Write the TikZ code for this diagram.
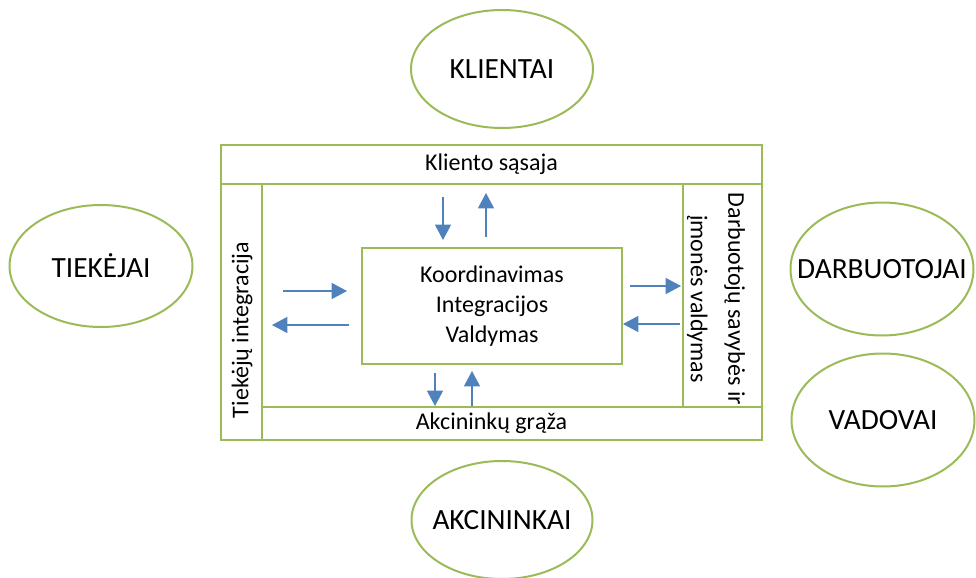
\documentclass[tikz,border=0pt]{standalone}
\usepackage{fontspec}
\setmainfont{Carlito}
\usetikzlibrary{arrows.meta,shapes.geometric}

\definecolor{frameGreen}{HTML}{9BBB59}
\definecolor{arrowBlue}{HTML}{4F81BD}

% label may run past the ellipse rim
\newcommand{\partytext}[1]{\makebox[0pt]{#1}}

\begin{document}
\begin{tikzpicture}[
  x=0.75pt, y=-0.75pt,
  every node/.style={font=\fontsize{18}{22.5}\selectfont, text=black},
  party/.style={ellipse, draw=frameGreen, line width=1.5pt, fill=white,
                inner sep=0pt, font=\fontsize{22}{26}\selectfont},
  band/.style={rectangle, draw=frameGreen, line width=1.5pt, fill=white, inner sep=0pt},
  flow/.style={-{Triangle[length=11.5pt,width=12pt]}, draw=arrowBlue, fill=arrowBlue, line width=1.1pt}
]
\clip (0,0) rectangle (976,578);

% stakeholders round the frame
\node[party, minimum width=182*0.75pt, minimum height=118*0.75pt] (klientai) at (502,69) {\partytext{KLIENTAI}};
\node[party, minimum width=183*0.75pt, minimum height=122*0.75pt] (tiekejai) at (101,266) {\partytext{TIEKĖJAI}};
\node[party, minimum width=183*0.75pt, minimum height=133*0.75pt] (darbuotojai) at (882,269) {\partytext{DARBUOTOJAI}};
\node[party, minimum width=183*0.75pt, minimum height=133*0.75pt] (vadovai) at (883,420) {\partytext{VADOVAI}};
\node[party, minimum width=181*0.75pt, minimum height=118*0.75pt] (akcininkai) at (502,520) {\partytext{AKCININKAI}};

% frame bands
\node[band, minimum width=541*0.75pt, minimum height=39*0.75pt] (kband) at (491.5,164.5) {Kliento sąsaja};
\node[band, minimum width=541*0.75pt, minimum height=33*0.75pt] (aband) at (491.5,423.5) {Akcininkų grąža};
\node[band, minimum width=41*0.75pt, minimum height=256*0.75pt] (tband) at (241.5,312) {};
\node[band, minimum width=79*0.75pt, minimum height=223*0.75pt] (dband) at (722.5,295.5) {};
\node[rotate=90] (ttext) at (242,330) {Tiekėjų integracija};
\begin{scope}
  \clip (dband.north west) rectangle (dband.south east);
  \node[rotate=-90, align=center, font=\fontsize{18}{28}\selectfont] (dtext) at (716,299)
    {Darbuotojų savybės ir\\įmonės valdymas};
\end{scope}

% core
\node[band, minimum width=260*0.75pt, minimum height=116*0.75pt, align=center] (core) at (492,306)
  {Koordinavimas\\Integracijos\\Valdymas};

% exchange arrows
\foreach \n/\x/\y in {kd1/443/197, kd2/443/240, ku1/486/237, ku2/486/193,
                      tr1/283/291, tr2/347/291, tl1/349/325, tl2/272/325,
                      dr1/630/286, dr2/681/286, dl1/680/324, dl2/623/324,
                      ad1/435/373, ad2/435/406, au1/472/406, au2/472/371}
  \coordinate (\n) at (\x,\y);
\foreach \a/\b in {kd1/kd2, ku1/ku2, tr1/tr2, tl1/tl2, dr1/dr2, dl1/dl2, ad1/ad2, au1/au2}
  \draw[flow] (\a) -- (\b);
\end{tikzpicture}
\end{document}
